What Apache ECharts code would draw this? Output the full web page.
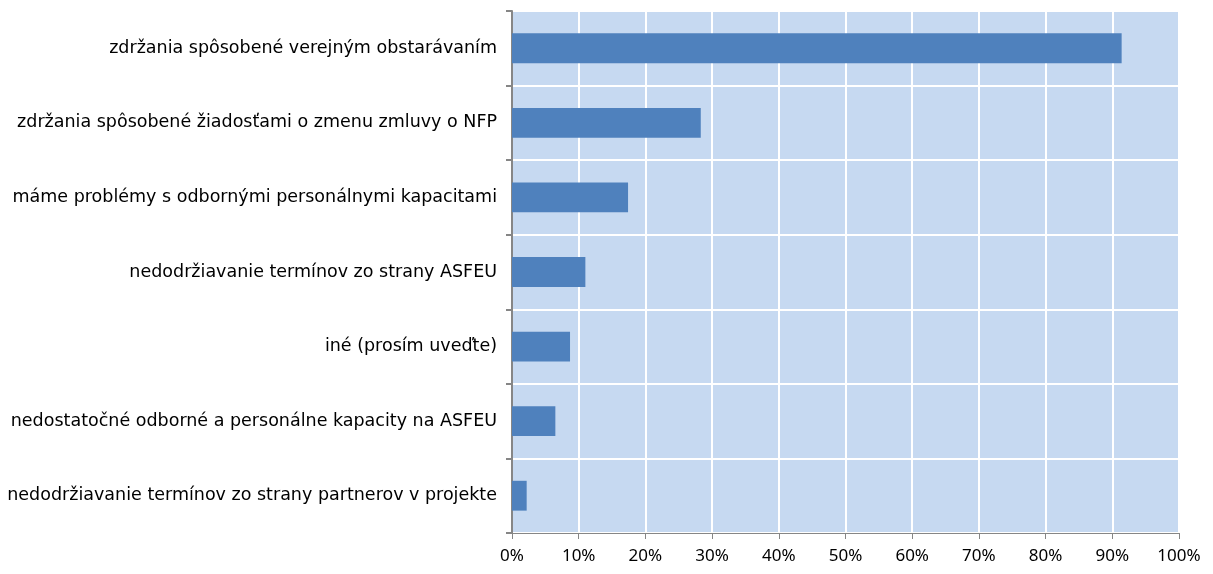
<!DOCTYPE html>
<html>
<head>
<meta charset="utf-8">
<script src="https://cdn.jsdelivr.net/npm/echarts@6/dist/echarts.min.js"></script>
<style>
html,body{margin:0;padding:0;background:#fff;}
#chart{width:1213px;height:574px;}
</style>
</head>
<body>
<div id="chart"></div>
<script>
const categories = [
  'zdržania spôsobené verejným obstarávaním',
  'zdržania spôsobené žiadosťami o zmenu zmluvy o NFP',
  'máme problémy s odbornými personálnymi kapacitami',
  'nedodržiavanie termínov zo strany ASFEU',
  'iné (prosím uveďte)',
  'nedostatočné odborné a personálne kapacity na ASFEU',
  'nedodržiavanie termínov zo strany partnerov v projekte'
];
const values = [91.4, 28.3, 17.4, 11.0, 8.7, 6.5, 2.2];

const chart = echarts.init(document.getElementById('chart'));
chart.setOption({
  animation: false,
  grid: {
    left: 512, right: 34, top: 11, bottom: 41,
    show: true, backgroundColor: '#c6d9f1', borderWidth: 0
  },
  xAxis: {
    type: 'value', min: 0, max: 100, interval: 10,
    axisLine: { show: true, lineStyle: { color: '#868686', width: 1 } },
    axisTick: { show: true, length: 6, lineStyle: { color: '#868686' } },
    axisLabel: { formatter: '{value}%', color: '#000', fontFamily: 'Noto Sans', fontSize: 17, margin: 15 },
    splitLine: { show: true, lineStyle: { color: '#ffffff', width: 2 } }
  },
  yAxis: {
    type: 'category', data: categories, inverse: true,
    axisLine: { show: true, lineStyle: { color: '#868686', width: 2 } },
    axisTick: { show: true, length: 6, lineStyle: { color: '#868686', width: 2 } },
    axisLabel: { color: '#000', fontFamily: 'DejaVu Sans', fontSize: 17.5, margin: 15 },
    splitLine: { show: true, lineStyle: { color: '#ffffff', width: 2 } }
  },
  series: [{
    type: 'bar', data: values, barCategoryGap: '60%',
    itemStyle: { color: '#4f81bd' }
  }]
});
</script>
</body>
</html>
